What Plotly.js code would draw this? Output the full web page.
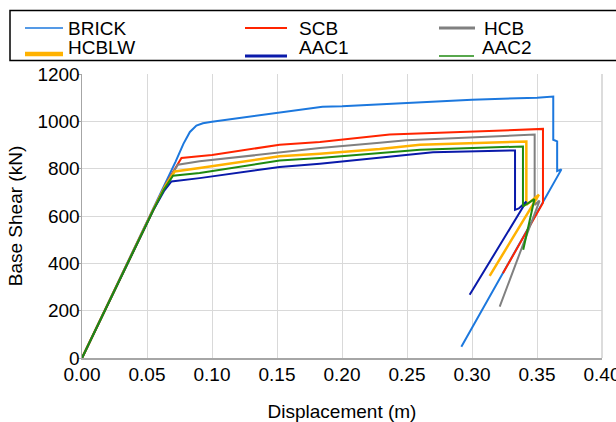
<!DOCTYPE html>
<html>
<head>
<meta charset="utf-8">
<script src="https://cdn.plot.ly/plotly-3.0.1.min.js"></script>
<style>html,body{margin:0;padding:0;background:#fff;}#chart{width:616px;height:422px;}</style>
</head>
<body>
<div id="chart"></div>
<script>
// ---- data ----
var seriesNames = ["BRICK", "SCB", "HCB", "HCBLW", "AAC1", "AAC2"];

var brickX = [0, 0.02, 0.04, 0.055, 0.065, 0.072, 0.078, 0.083, 0.088, 0.093, 0.1, 0.12, 0.15, 0.18, 0.185, 0.2, 0.25, 0.3, 0.35, 0.3625, 0.3625, 0.3655, 0.3655, 0.3688, 0.2918];
var brickY = [0, 230, 460, 630, 745, 830, 905, 955, 982, 992, 998, 1013, 1037, 1058, 1062, 1064, 1078, 1091, 1100, 1105, 922, 915, 790, 797, 48];

var scbX = [0, 0.03, 0.055, 0.065, 0.0765, 0.09, 0.1, 0.152, 0.183, 0.2367, 0.3546, 0.3546, 0.3238];
var scbY = [0, 345, 630, 740, 845, 852, 858, 901, 913, 944, 968, 656, 358];

var hcbX = [0, 0.03, 0.055, 0.065, 0.0738, 0.0905, 0.152, 0.183, 0.229, 0.2495, 0.3482, 0.3482, 0.352, 0.3213];
var hcbY = [0, 345, 630, 738, 817, 831, 870, 887, 909, 920, 944, 647, 665, 217];

var hcblwX = [0, 0.03, 0.055, 0.064, 0.0713, 0.0905, 0.152, 0.183, 0.229, 0.26, 0.3418, 0.3418, 0.3515, 0.3136];
var hcblwY = [0, 345, 628, 725, 788, 803, 852, 863, 883, 901, 915, 647, 690, 347];

var aac1X = [0, 0.03, 0.055, 0.063, 0.0688, 0.0905, 0.152, 0.183, 0.229, 0.27, 0.3331, 0.3331, 0.336, 0.3418, 0.2982];
var aac1Y = [0, 345, 626, 705, 746, 760, 807, 821, 848, 869, 877, 626, 632, 661, 267];

var aac2X = [0, 0.03, 0.055, 0.063, 0.070, 0.0905, 0.152, 0.183, 0.229, 0.26, 0.3392, 0.3392, 0.348, 0.3394];
var aac2Y = [0, 345, 627, 712, 770, 782, 834, 845, 865, 880, 894, 640, 671, 457];

var xTickVals = [0, 0.05, 0.10, 0.15, 0.20, 0.25, 0.30, 0.35, 0.40];
var xTickText = ["0.00", "0.05", "0.10", "0.15", "0.20", "0.25", "0.30", "0.35", "0.40"];
var yTickVals = [0, 200, 400, 600, 800, 1000, 1200];
var yTickText = ["0", "200", "400", "600", "800", "1000", "1200"];

// ---- styles ----
var colors = ["#1C78DE", "#FF2400", "#808080", "#FFB200", "#0A1AAA", "#1F8A10"];
var widths = [2, 2, 2, 2.5, 2, 2];
var legendWidths = [1.5, 2, 3, 4.5, 3, 1.5];

var xs = [brickX, scbX, hcbX, hcblwX, aac1X, aac2X];
var ys = [brickY, scbY, hcbY, hcblwY, aac1Y, aac2Y];

var traces = seriesNames.map(function (n, i) {
  return {
    type: "scatter", mode: "lines", name: n,
    x: xs[i], y: ys[i],
    line: {color: colors[i], width: widths[i]},
    showlegend: false, hoverinfo: "skip"
  };
});

// plot area in pixels
var L = 82, R = 14, T = 74, B = 64, W = 616, H = 422;
var pw = W - L - R, ph = H - T - B;
function px(x) { return (x - L) / pw; }
function py(y) { return (H - B - y) / ph; }

var shapes = [];
var annotations = [];
// legend box
shapes.push({type: "rect", xref: "paper", yref: "paper",
  x0: px(10), x1: px(700), y0: py(60.5), y1: py(10.5),
  line: {color: "#000", width: 1.5}, fillcolor: "rgba(0,0,0,0)"});
// right edge grid line of the plot area
shapes.push({type: "line", xref: "paper", yref: "paper",
  x0: 1, x1: 1, y0: 0, y1: 1, line: {color: "#D0D0D0", width: 1.5}});
// legend entries: [lineStart, lineEnd, lineY, textX, textY]
var legPos = [
  [25, 63, 28, 66, 28],
  [245, 287, 28, 297, 28],
  [439, 475, 28, 482, 28],
  [25, 63, 54, 66, 47],
  [245, 287, 56, 297, 47],
  [439, 474, 56, 480, 47]
];
seriesNames.forEach(function (n, i) {
  var p = legPos[i];
  shapes.push({type: "line", xref: "paper", yref: "paper",
    x0: px(p[0]), x1: px(p[1]), y0: py(p[2]), y1: py(p[2]),
    line: {color: colors[i], width: legendWidths[i]}});
  annotations.push({xref: "paper", yref: "paper", x: px(p[3]), y: py(p[4]),
    xanchor: "left", yanchor: "middle", showarrow: false, text: n,
    font: {family: "Liberation Sans, Arial, sans-serif", size: 19, color: "#000"}});
});

var layout = {
  width: W, height: H,
  margin: {l: L, r: R, t: T, b: B, pad: 0},
  paper_bgcolor: "#fff", plot_bgcolor: "#fff",
  font: {family: "Liberation Sans, Arial, sans-serif", size: 19, color: "#000"},
  showlegend: false,
  xaxis: {
    range: [0, 0.40], tickvals: xTickVals, ticktext: xTickText,
    showgrid: true, gridcolor: "#D9D9D9", gridwidth: 1,
    showline: true, linecolor: "#A6A6A6", linewidth: 1.5,
    ticks: "", zeroline: false, ticklabelstandoff: -1, ticklabeloverflow: "allow",
    title: {text: "Displacement (m)", font: {size: 19}, standoff: 23}
  },
  yaxis: {
    range: [0, 1200], tickvals: yTickVals, ticktext: yTickText,
    showgrid: true, gridcolor: "#D9D9D9", gridwidth: 1,
    showline: true, linecolor: "#A6A6A6", linewidth: 1.5,
    ticks: "outside", ticklen: 3, tickcolor: "#A6A6A6", zeroline: false,
    ticklabelstandoff: -6,
    title: {text: "Base Shear (kN)", font: {size: 19}, standoff: 10}
  },
  shapes: shapes,
  annotations: annotations
};

Plotly.newPlot("chart", traces, layout, {staticPlot: true, displayModeBar: false});
</script>
</body>
</html>
